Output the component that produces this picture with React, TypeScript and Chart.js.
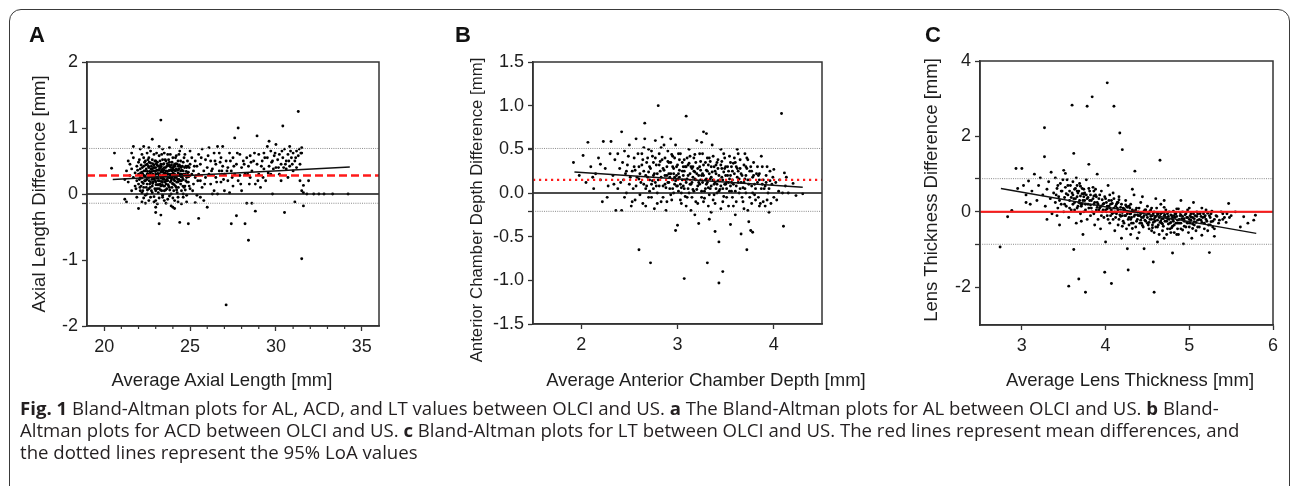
import { useEffect, useRef } from "react";
import { Chart, registerables } from "chart.js";

Chart.register(...registerables);

type P = [number, number];

// ---------- Panel A: Axial length ----------
const AL_POINTS: P[] = [
  [20.43,0.39],[20.6,0.62],[21.7,0.72],
  [21.2,0.22],[21.3,0.35],[21.4,0.18],[21.5,0.45],[21.5,0.28],[21.6,0.05],[21.6,0.38],[21.7,0.25],[21.7,0.55],[21.8,0.12],[21.8,0.32],[21.9,0.42],[21.9,0.2],[21.9,-0.05],[21.2,-0.08],[21.3,-0.12],[21.6,0.62],[21.4,0.5],
  [22.0,0.3],[22.0,0.15],[22.0,0.48],[22.1,0.38],[22.1,0.05],[22.1,0.25],[22.2,0.6],[22.2,0.33],[22.2,0.18],[22.3,0.42],[22.3,0.1],[22.3,0.28],[22.3,0.72],[22.4,0.35],[22.4,0.2],[22.4,0.5],[22.4,-0.02],[22.5,0.3],[22.5,0.15],[22.5,0.45],[22.5,0.62],[22.0,-0.22],[22.2,-0.12],[22.4,-0.14],[22.1,0.68],[22.3,0.55],[22.5,0.0],
  [22.6,0.25],[22.6,0.4],[22.6,0.08],[22.6,0.55],[22.7,0.32],[22.7,0.18],[22.7,0.47],[22.7,0.65],[22.8,0.28],[22.8,0.38],[22.8,0.12],[22.8,0.52],[22.8,0.02],[22.9,0.22],[22.9,0.35],[22.9,0.44],[22.9,0.6],[23.0,0.3],[23.0,0.18],[23.0,0.4],[23.0,0.5],[23.0,0.05],[23.0,-0.2],[22.9,-0.12],[22.7,-0.05],[22.6,0.7],[23.0,-0.28],[22.8,0.83],
  [23.1,0.26],[23.1,0.36],[23.1,0.14],[23.1,0.48],[23.2,0.3],[23.2,0.2],[23.2,0.42],[23.2,0.58],[23.2,0.08],[23.3,0.33],[23.3,0.24],[23.3,0.45],[23.3,0.12],[23.3,1.12],[23.4,0.28],[23.4,0.38],[23.4,0.18],[23.4,0.52],[23.4,0.68],[23.5,0.3],[23.5,0.22],[23.5,0.4],[23.5,0.05],[23.5,-0.1],[23.2,-0.45],[23.3,-0.32],[23.1,-0.15],[23.4,-0.05],[23.2,0.72],[23.5,0.62],
  [23.6,0.27],[23.6,0.35],[23.6,0.15],[23.6,0.5],[23.7,0.3],[23.7,0.2],[23.7,0.43],[23.7,0.6],[23.8,0.25],[23.8,0.36],[23.8,0.1],[23.8,0.48],[23.9,0.3],[23.9,0.2],[23.9,0.4],[23.9,0.0],[24.0,0.28],[24.0,0.15],[24.0,0.38],[24.0,0.55],[23.7,-0.08],[23.9,-0.18],[24.0,-0.2],[23.8,0.7],[24.0,-0.06],
  [24.1,0.3],[24.1,0.2],[24.1,0.45],[24.2,0.25],[24.2,0.38],[24.2,0.82],[24.2,0.1],[24.3,0.32],[24.3,0.5],[24.3,0.18],[24.4,0.28],[24.4,0.42],[24.4,0.65],[24.4,-0.43],[24.5,0.3],[24.5,0.2],[24.5,0.05],[24.5,0.72],[24.1,-0.22],[24.3,-0.12],[24.5,-0.15],[24.2,0.58],
  [24.6,0.35],[24.6,0.22],[24.6,0.48],[24.7,0.3],[24.7,0.12],[24.7,0.6],[24.8,0.4],[24.8,0.25],[24.8,-0.02],[24.9,0.33],[24.9,0.18],[24.9,-0.45],[25.0,0.45],[25.0,0.28],[25.0,0.08],[24.6,-0.05],[24.8,-0.12],[25.0,0.65],
  [25.2,0.35],[25.2,0.15],[25.3,0.5],[25.3,0.25],[25.4,0.42],[25.4,-0.02],[25.5,0.3],[25.5,0.6],[25.5,-0.37],[25.6,0.2],[25.6,0.45],[25.7,0.68],[25.7,0.1],[25.8,0.35],[25.8,-0.1],[25.9,0.52],[25.9,0.25],[26.0,-0.2],[26.0,0.4],[25.6,-0.05],[25.3,-0.13],
  [26.1,0.3],[26.1,0.7],[26.2,0.15],[26.2,0.5],[26.3,0.38],[26.4,0.62],[26.4,0.05],[26.5,0.45],[26.5,0.25],[26.6,0.72],[26.6,0.0],[26.7,0.35],[26.8,0.55],[26.8,0.18],[26.9,0.42],[26.9,0.72],[27.0,0.3],[27.0,0.05],[26.3,0.0],[26.7,0.62],
  [27.1,-1.68],[27.1,0.5],[27.2,0.2],[27.2,0.4],[27.3,0.62],[27.3,0.02],[27.4,-0.45],[27.4,0.35],[27.5,0.55],[27.5,0.12],[27.6,0.85],[27.6,0.3],[27.7,-0.33],[27.7,0.45],[27.8,1.0],[27.8,0.2],[27.9,0.6],[27.9,0.28],[28.0,0.4],[28.0,0.05],
  [28.1,0.5],[28.2,-0.45],[28.2,0.3],[28.3,0.55],[28.3,-0.14],[28.4,-0.7],[28.4,0.42],[28.5,0.25],[28.5,0.58],[28.6,-0.14],[28.6,0.35],[28.7,0.5],[28.8,-0.26],[28.8,0.15],[28.9,0.88],[28.9,0.45],[29.0,0.6],[29.0,0.3],
  [29.1,0.1],[29.2,0.5],[29.3,0.38],[29.3,0.62],[29.4,0.2],[29.5,0.55],[29.5,0.72],[29.6,0.42],[29.7,0.3],[29.7,0.65],[29.8,0.5],[29.8,0.0],[29.9,0.58],[30.0,0.4],[30.0,0.75],[29.6,0.8],
  [30.1,0.52],[30.2,0.6],[30.2,0.3],[30.3,0.45],[30.4,1.03],[30.4,0.55],[30.5,-0.28],[30.5,0.68],[30.6,0.38],[30.6,0.5],[30.7,0.6],[30.8,0.42],[30.8,0.72],[30.9,0.55],[31.0,0.35],[31.0,0.62],[30.3,0.2],[30.7,0.25],
  [31.1,-0.12],[31.1,0.5],[31.2,0.65],[31.2,0.4],[31.3,1.25],[31.3,0.58],[31.4,0.45],[31.4,0.2],[31.5,-0.98],[31.5,0.62],[31.5,0.05],[31.6,0.02],[31.6,-0.18],[31.5,0.7],[31.6,0.13],[31.9,0.2],
  [31.8,0.0],[32.2,0.0],[32.5,0.0],[32.8,0.0],[33.3,0.0],[34.2,0.0],
];
const AL_POINTS_DENSE: P[] = [
  [21.85,0.08],[21.95,0.36],[22.05,0.22],[22.05,0.52],[22.15,0.12],[22.15,0.44],[22.25,0.3],[22.25,0.05],[22.35,0.2],[22.35,0.48],[22.45,0.38],[22.45,0.1],[22.55,0.26],[22.55,0.52],[22.65,0.15],[22.65,0.34],[22.75,0.42],[22.75,0.05],[22.85,0.3],[22.85,0.18],[22.95,0.5],[22.95,0.08],
  [23.05,0.24],[23.05,0.36],[23.05,0.62],[23.15,0.2],[23.15,0.42],[23.15,0.02],[23.25,0.28],[23.25,0.5],[23.25,0.15],[23.35,0.36],[23.35,0.05],[23.35,0.6],[23.45,0.24],[23.45,0.45],[23.45,0.12],[23.55,0.32],[23.55,0.52],[23.55,0.18],[23.65,0.42],[23.65,0.08],[23.65,0.22],[23.75,0.35],[23.75,0.12],[23.75,0.52],[23.85,0.28],[23.85,0.18],[23.85,0.6],[23.95,0.35],[23.95,0.1],[23.95,0.48],
  [24.05,0.22],[24.05,0.42],[24.05,0.05],[24.15,0.35],[24.15,0.12],[24.15,0.55],[24.25,0.28],[24.25,0.45],[24.25,0.02],[24.35,0.22],[24.35,0.38],[24.35,0.6],[24.45,0.15],[24.45,0.35],[24.45,0.5],[24.55,0.25],[24.55,0.42],[24.65,0.1],[24.65,0.55],[24.75,0.2],[24.75,0.42],[24.85,0.3],[24.85,0.5],[24.95,0.12],[24.95,0.4],[25.1,0.3],[25.1,0.55],[25.15,0.05],
  [22.52,0.34],[22.62,0.2],[22.72,0.38],[22.82,0.46],[22.92,0.27],[23.02,0.14],[23.12,0.31],[23.22,0.38],[23.32,0.19],[23.42,0.33],[23.52,0.12],[23.62,0.3],[23.72,0.25],[23.82,0.42],[23.92,0.23],[24.02,0.32],[24.12,0.25],[24.22,0.18],[24.32,0.42],[24.42,0.3],
  [22.58,0.42],[22.68,0.28],[22.78,0.22],[22.88,0.4],[22.98,0.34],[23.08,0.44],[23.18,0.36],[23.28,0.4],[23.38,0.26],[23.48,0.36],[23.58,0.4],[23.68,0.34],[23.78,0.44],[23.88,0.36],[23.98,0.26],[24.08,0.36],[24.18,0.46],[24.28,0.36],[24.38,0.3],[24.48,0.4],
  [25.25,0.42],[25.45,0.2],[25.65,0.55],[25.85,0.15],[26.05,0.58],[26.25,0.35],[26.45,0.5],[26.55,0.18],[26.75,0.48],[26.95,0.22],[27.15,0.35],[27.35,0.5],[27.55,0.42],[27.75,0.62],[27.95,0.15],[28.15,0.45],[28.35,0.3],[28.55,0.48],[28.75,0.62],[28.95,0.2],
  [29.15,0.42],[29.35,0.55],[29.55,0.32],[29.75,0.48],[29.95,0.62],[30.15,0.4],[30.35,0.65],[30.55,0.45],[30.75,0.5],[30.95,0.45],[31.15,0.55],[31.35,0.68],[31.45,0.62],[30.85,0.65],[30.45,0.4],[29.85,0.38],[29.25,0.25],[28.45,0.15],[27.45,0.25],[26.85,0.35],
];
const AL_POINTS_CORE: P[] = [
  [22.08,0.1],[22.12,0.32],[22.18,0.24],[22.22,0.4],[22.28,0.16],[22.32,0.35],[22.38,0.27],[22.42,0.44],[22.48,0.22],[22.52,0.06],[22.58,0.3],[22.62,0.48],[22.68,0.1],[22.72,0.26],[22.78,0.34],[22.82,0.16],[22.88,0.24],[22.92,0.4],[22.98,0.2],[23.02,0.46],
  [23.08,0.08],[23.12,0.24],[23.18,0.14],[23.22,0.28],[23.28,0.06],[23.32,0.42],[23.38,0.14],[23.42,0.22],[23.48,0.46],[23.52,0.28],[23.58,0.06],[23.62,0.2],[23.68,0.46],[23.72,0.14],[23.78,0.3],[23.82,0.06],[23.88,0.24],[23.92,0.44],[23.98,0.16],[24.02,0.4],
  [24.08,0.14],[24.12,0.42],[24.18,0.28],[24.22,0.06],[24.28,0.22],[24.32,0.1],[24.38,0.44],[24.42,0.2],[24.48,0.26],[24.52,0.36],[24.58,0.12],[24.62,0.3],[24.68,0.4],[24.72,0.06],[24.78,0.34],[24.82,0.18],[24.88,0.42],[24.92,0.26],[22.3,-0.06],[22.9,-0.04],
  [23.4,-0.02],[23.6,-0.14],[24.1,-0.1],[24.6,0.0],[23.0,-0.1],[22.6,-0.1],[23.8,-0.03],[24.3,-0.05],[22.2,0.02],[23.2,-0.06],
];
const AL_MEAN = 0.28;
const AL_LOA = [-0.14, 0.69];
const AL_FIT: P[] = [[20.5, 0.22], [34.3, 0.41]];
const AL_X_TICKS = [20, 25, 30, 35];
const AL_X_MINOR = [21, 22, 23, 24, 26, 27, 28, 29, 31, 32, 33, 34];
const AL_Y_TICKS = [-2, -1, 0, 1, 2];

// ---------- Panel B: Anterior chamber depth ----------
const ACD_POINTS: P[] = [
  [1.92,0.35],[2.02,0.43],[2.07,0.58],[1.98,0.2],[2.05,0.12],[2.1,0.3],[2.13,0.05],[2.15,0.22],[2.18,0.4],[2.2,0.15],[2.22,-0.1],[2.23,0.59],[2.25,0.28],[2.28,0.08],[2.3,0.45],[2.31,0.59],[2.2,0.33],[2.27,-0.05],[2.12,0.18],
  [2.33,0.2],[2.35,0.38],[2.36,-0.2],[2.38,0.05],[2.4,0.28],[2.42,0.7],[2.42,-0.2],[2.44,0.15],[2.45,0.48],[2.47,0.0],[2.48,0.32],[2.5,0.1],[2.5,0.55],[2.52,-0.15],[2.53,0.25],[2.55,0.4],[2.56,-0.08],[2.58,0.18],[2.6,0.3],[2.6,-0.65],[2.38,0.45],[2.46,0.22],[2.54,0.05],[2.57,0.62],[2.34,0.1],
  [2.62,0.12],[2.63,0.45],[2.64,-0.12],[2.65,0.25],[2.66,0.8],[2.67,0.05],[2.68,0.35],[2.69,0.18],[2.7,0.5],[2.7,-0.05],[2.72,-0.8],[2.72,0.28],[2.73,0.1],[2.74,0.42],[2.75,0.2],[2.76,-0.18],[2.77,0.6],[2.78,0.32],[2.79,0.0],[2.8,1.0],[2.8,0.15],[2.81,0.45],[2.82,0.25],[2.83,-0.1],[2.84,0.38],[2.85,0.08],[2.86,0.55],[2.87,0.2],[2.88,-0.2],[2.89,0.3],[2.9,0.12],[2.9,0.48],[2.66,0.62],[2.71,0.02],[2.76,0.22],[2.84,0.64],
  [2.91,0.22],[2.92,0.05],[2.93,0.35],[2.94,-0.08],[2.95,0.15],[2.95,0.42],[2.96,0.28],[2.97,0.1],[2.98,-0.43],[2.98,0.55],[2.99,0.2],[3.0,-0.37],[3.0,0.32],[3.01,0.02],[3.02,0.18],[3.03,0.45],[3.04,-0.12],[3.05,0.25],[3.06,0.08],[3.07,-0.98],[3.07,0.38],[3.08,0.15],[3.09,0.88],[3.09,0.3],[3.1,-0.05],[3.11,0.2],[3.12,0.5],[3.13,0.1],[3.14,-0.2],[3.15,0.28],[3.16,0.04],[3.17,0.4],[3.18,0.16],[3.19,-0.1],[3.2,0.6],[3.2,0.22],[2.93,0.62],[3.04,0.0],[3.12,0.34],[3.18,-0.25],
  [3.21,0.08],[3.22,-0.35],[3.23,0.3],[3.24,0.15],[3.25,-0.05],[3.26,0.45],[3.27,0.7],[3.27,0.2],[3.28,0.02],[3.29,0.35],[3.3,0.68],[3.3,0.1],[3.31,-0.8],[3.31,0.25],[3.32,-0.15],[3.33,-0.3],[3.33,0.4],[3.34,0.05],[3.35,0.18],[3.36,0.55],[3.37,-0.08],[3.38,0.3],[3.39,-0.44],[3.39,0.12],[3.4,0.22],[3.41,0.0],[3.42,0.38],[3.43,-1.03],[3.43,-0.56],[3.44,0.15],[3.45,-0.18],[3.46,0.28],[3.47,-0.9],[3.47,0.05],[3.48,0.45],[3.49,0.1],[3.5,0.2],[3.25,0.58],[3.35,-0.22],[3.45,0.5],
  [3.51,-0.05],[3.52,0.3],[3.53,0.12],[3.54,0.42],[3.55,-0.36],[3.55,0.2],[3.56,0.02],[3.57,0.25],[3.58,-0.15],[3.6,0.35],[3.6,-0.25],[3.61,0.08],[3.62,0.18],[3.63,0.45],[3.64,0.0],[3.65,0.28],[3.66,-0.47],[3.66,0.12],[3.68,-0.1],[3.69,0.32],[3.7,0.05],[3.71,0.2],[3.72,-0.65],[3.72,0.4],[3.73,-0.2],[3.74,-0.33],[3.75,0.15],[3.76,-0.43],[3.77,0.25],[3.78,-0.45],[3.78,0.0],[3.8,0.1],[3.62,0.5],[3.7,0.45],
  [3.82,0.22],[3.84,-0.05],[3.85,0.15],[3.86,-0.12],[3.88,0.3],[3.9,0.05],[3.91,-0.15],[3.92,0.2],[3.94,0.0],[3.95,-0.22],[3.96,0.25],[3.98,0.1],[4.0,0.27],[4.0,-0.05],[4.02,0.12],[4.05,0.02],[4.08,0.91],[4.1,-0.38],[4.11,0.23],[4.12,0.08],[4.15,0.0],[4.2,0.11],[4.23,-0.03],[4.3,-0.01],[3.87,0.42],[3.93,-0.08],
];
const ACD_POINTS_DENSE: P[] = [
  [2.41,0.12],[2.43,0.35],[2.45,-0.05],[2.47,0.25],[2.49,0.42],[2.51,0.18],[2.53,-0.1],[2.55,0.3],[2.57,0.08],[2.59,0.45],[2.61,0.22],[2.61,-0.02],[2.63,0.32],[2.65,0.1],[2.65,0.52],[2.67,0.2],[2.67,-0.15],[2.69,0.4],[2.71,0.15],[2.71,0.3],[2.73,-0.05],[2.73,0.48],[2.75,0.35],[2.75,0.05],[2.77,0.12],[2.77,0.4],[2.79,0.22],[2.79,-0.12],
  [2.81,0.32],[2.81,0.08],[2.83,0.18],[2.83,0.52],[2.85,0.28],[2.85,-0.05],[2.87,0.4],[2.87,0.1],[2.89,0.2],[2.89,-0.1],[2.91,0.35],[2.91,0.12],[2.93,0.22],[2.93,-0.02],[2.95,0.3],[2.95,0.05],[2.97,0.4],[2.97,0.18],[2.99,0.08],[2.99,0.3],
  [3.01,0.22],[3.01,0.45],[3.03,0.1],[3.03,-0.08],[3.05,0.35],[3.05,0.15],[3.07,0.05],[3.07,0.25],[3.09,0.12],[3.09,-0.15],[3.11,0.32],[3.11,0.05],[3.13,0.22],[3.13,0.42],[3.15,0.12],[3.15,-0.05],[3.17,0.25],[3.17,0.02],[3.19,0.35],[3.19,0.15],
  [3.21,0.28],[3.21,-0.12],[3.23,0.1],[3.23,0.45],[3.25,0.2],[3.25,0.02],[3.27,0.32],[3.27,-0.1],[3.29,0.15],[3.29,0.05],[3.31,0.4],[3.31,0.12],[3.33,0.22],[3.33,-0.02],[3.35,0.3],[3.35,0.08],[3.37,0.15],[3.37,0.42],[3.39,0.25],[3.39,-0.12],
  [3.41,0.1],[3.41,0.35],[3.43,0.02],[3.43,0.2],[3.45,0.32],[3.45,0.08],[3.47,0.15],[3.47,-0.1],[3.49,0.28],[3.49,0.4],[3.51,0.12],[3.51,0.05],[3.53,0.25],[3.53,-0.15],[3.55,0.35],[3.55,0.08],[3.57,0.15],[3.57,-0.05],[3.59,0.22],[3.59,0.4],
  [3.61,-0.1],[3.61,0.3],[3.63,0.12],[3.63,0.25],[3.65,0.05],[3.65,0.38],[3.67,-0.05],[3.67,0.2],[3.69,0.12],[3.69,-0.18],[3.71,0.3],[3.71,0.0],[3.73,0.15],[3.73,0.38],[3.75,-0.05],[3.75,0.25],[3.77,0.08],[3.77,-0.12],[3.79,0.2],[3.79,0.35],
  [3.81,0.05],[3.81,-0.08],[3.83,0.12],[3.83,0.3],[3.85,-0.15],[3.85,0.22],[3.87,0.05],[3.89,0.15],[3.89,-0.1],[3.91,0.08],[3.93,0.3],[3.95,0.05],[3.97,-0.12],[3.99,0.18],[4.03,-0.08],[4.06,0.15],[4.09,0.0],[4.13,0.18],
  [2.98,0.14],[3.02,0.26],[3.06,0.2],[3.1,0.16],[3.14,0.1],[3.18,0.24],[3.22,0.2],[3.26,0.12],[3.3,0.26],[3.34,0.16],[3.38,0.1],[3.42,0.28],[3.46,0.18],[3.5,0.1],[3.54,0.16],[3.58,0.1],[3.0,0.08],[3.08,0.3],[3.16,0.3],[3.24,0.26],[3.32,0.32],[3.4,0.05],[3.48,0.24],[3.56,0.3],
];
const ACD_POINTS_CORE: P[] = [
  [2.86,0.26],[2.88,0.06],[2.9,0.36],[2.92,0.18],[2.94,0.44],[2.96,0.0],[2.96,0.22],[3.0,0.16],[3.02,0.38],[3.04,0.06],[3.06,0.3],[3.08,-0.04],[3.1,0.4],[3.12,0.0],[3.14,0.3],[3.16,0.18],[3.18,0.44],[3.2,0.04],[3.22,0.12],[3.24,0.36],
  [3.26,0.22],[3.28,-0.06],[3.3,0.16],[3.32,0.06],[3.34,0.36],[3.36,0.24],[3.38,-0.02],[3.4,0.32],[3.42,0.14],[3.44,0.04],[3.46,0.36],[3.48,-0.04],[3.5,0.3],[3.52,0.2],[3.54,0.02],[3.56,0.12],[3.58,0.34],[3.6,0.02],[3.62,0.28],[3.64,0.16],
  [3.66,0.22],[3.68,0.06],[3.7,0.16],[3.72,0.28],[3.74,0.1],[3.76,0.3],[3.78,0.18],[3.8,-0.02],[2.7,0.24],[2.74,0.14],[2.78,0.08],[2.82,0.36],[2.6,0.16],[2.64,0.38],[2.68,0.08],[2.56,0.26],[3.84,0.2],[3.88,0.1],[3.92,0.12],[3.96,0.14],
];
const ACD_MEAN = 0.15;
const ACD_LOA = [-0.21, 0.51];
const ACD_FIT: P[] = [[1.93, 0.24], [4.3, 0.065]];
const ACD_X_TICKS = [2, 3, 4];
const ACD_Y_TICKS = [-1.5, -1, -0.5, 0, 0.5, 1, 1.5];

// ---------- Panel C: Lens thickness ----------
const LT_POINTS: P[] = [
  [2.74,-0.93],[2.83,-0.13],[2.88,0.04],[2.93,1.15],[2.95,0.62],[3.0,1.15],[3.02,0.7],[3.05,0.45],[3.08,0.82],[3.1,0.2],[3.12,0.55],[3.15,1.0],[3.18,0.3],[3.2,0.7],[3.22,0.9],[3.25,0.45],[3.27,2.23],[3.27,1.46],[3.28,0.15],[3.3,0.6],[3.3,-0.2],[3.05,0.25],
  [3.32,0.8],[3.34,0.35],[3.35,1.05],[3.36,-0.05],[3.38,0.5],[3.4,0.25],[3.4,0.9],[3.42,0.62],[3.43,0.1],[3.44,0.4],[3.45,-0.35],[3.46,0.75],[3.47,0.2],[3.48,0.55],[3.5,0.0],[3.5,1.1],[3.51,0.38],[3.52,0.65],[3.53,0.15],[3.54,0.85],[3.55,0.45],[3.56,-0.15],[3.56,-1.97],[3.57,0.3],[3.58,0.7],[3.59,0.05],[3.6,2.83],[3.6,0.5],[3.42,-0.1],[3.52,1.02],
  [3.61,0.2],[3.62,1.55],[3.62,-1.0],[3.63,0.6],[3.64,0.35],[3.65,-0.3],[3.65,0.9],[3.66,0.1],[3.67,0.5],[3.68,-1.78],[3.68,0.25],[3.69,0.75],[3.7,-0.05],[3.7,0.42],[3.71,0.15],[3.72,0.62],[3.73,-0.6],[3.73,0.3],[3.74,0.0],[3.75,0.5],[3.76,-2.13],[3.76,0.2],[3.77,0.85],[3.78,2.8],[3.78,-0.2],[3.79,0.38],[3.8,1.26],[3.8,0.1],[3.81,0.55],[3.82,-0.1],[3.83,0.3],[3.84,3.05],[3.84,0.0],[3.85,0.65],[3.86,0.2],[3.87,-0.35],[3.88,0.45],[3.89,0.05],[3.9,0.25],[3.9,1.0],[3.66,0.7],[3.74,0.4],[3.86,0.55],[3.63,0.05],[3.71,-0.25],
  [3.91,-0.2],[3.92,0.35],[3.93,0.1],[3.94,-0.45],[3.95,0.55],[3.96,0.0],[3.97,0.2],[3.98,-0.15],[3.99,-1.6],[3.99,0.4],[4.0,0.05],[4.0,-0.8],[4.01,0.25],[4.02,3.42],[4.02,-0.1],[4.03,0.7],[4.04,0.15],[4.05,-0.3],[4.06,0.0],[4.07,-1.9],[4.07,0.3],[4.08,-0.05],[4.09,0.5],[4.1,2.8],[4.1,0.1],[4.11,-0.5],[4.12,-0.15],[4.13,0.2],[4.14,0.0],[4.15,-0.35],[4.16,0.4],[4.17,2.09],[4.17,-0.08],[4.18,0.12],[4.19,-0.7],[4.2,1.65],[4.2,-0.02],[3.95,0.15],[4.05,0.45],[4.15,0.25],
  [4.21,-0.25],[4.22,0.08],[4.23,-0.1],[4.24,0.3],[4.25,-0.45],[4.26,-0.98],[4.26,0.0],[4.27,-1.54],[4.27,-0.2],[4.28,0.15],[4.29,-0.05],[4.3,-0.6],[4.3,0.2],[4.31,-0.15],[4.32,0.05],[4.33,-0.3],[4.34,0.45],[4.35,1.08],[4.35,-0.08],[4.36,-0.4],[4.37,0.1],[4.38,-0.2],[4.39,0.0],[4.4,-0.55],[4.41,-0.1],[4.42,0.25],[4.43,-0.3],[4.44,-0.02],[4.45,-0.15],[4.46,-0.98],[4.47,0.05],[4.48,-0.25],[4.49,-0.08],[4.5,0.15],[4.32,0.6],[4.44,0.4],[4.38,-0.7],[4.28,-0.35],
  [4.51,-0.35],[4.52,-0.05],[4.53,-0.2],[4.54,0.05],[4.55,-0.5],[4.56,-0.1],[4.57,-1.33],[4.57,-0.28],[4.58,-2.13],[4.58,0.0],[4.59,-0.15],[4.6,-0.4],[4.61,0.1],[4.62,-0.22],[4.63,-0.05],[4.64,-0.6],[4.65,1.37],[4.65,-0.12],[4.66,0.2],[4.67,-0.3],[4.68,-0.02],[4.69,-0.18],[4.7,-0.7],[4.71,-0.08],[4.72,0.05],[4.73,-0.25],[4.74,-0.45],[4.75,-0.12],[4.76,0.0],[4.77,-0.3],[4.78,-0.55],[4.79,-0.1],[4.8,-1.09],[4.8,-0.2],[4.6,0.35],[4.7,0.3],[4.62,-0.8],
  [4.81,0.02],[4.82,-0.35],[4.83,-0.15],[4.84,-0.05],[4.85,-0.6],[4.86,-0.22],[4.87,0.08],[4.88,-0.3],[4.89,-0.1],[4.9,-0.45],[4.91,-0.18],[4.92,0.0],[4.93,-0.85],[4.94,-0.25],[4.95,-0.08],[4.96,-0.4],[4.97,-0.15],[4.98,0.05],[4.99,-0.55],[5.0,-0.2],[5.01,-0.3],[5.02,-0.05],[5.03,-0.7],[5.04,-0.15],[5.05,0.25],[5.06,-0.35],[5.07,-0.1],[5.08,-0.5],[5.09,0.0],[5.1,-0.22],[4.9,0.3],[5.0,0.1],
  [5.12,-0.4],[5.14,-0.12],[5.15,-0.62],[5.17,-0.05],[5.18,-0.3],[5.2,-0.2],[5.22,-0.5],[5.24,-1.08],[5.24,-0.1],[5.25,-0.35],[5.27,0.02],[5.28,-0.25],[5.3,-0.45],[5.32,-0.1],[5.35,-0.3],[5.38,0.0],[5.4,-0.2],[5.42,-0.15],[5.45,-0.05],[5.47,0.22],[5.5,-0.1],[5.55,0.0],[5.61,-0.4],[5.65,-0.13],[5.7,-0.3],[5.77,-0.22],[5.79,-0.09],[5.2,0.05],[5.3,-0.65],[5.15,0.1],
];
const LT_POINTS_DENSE: P[] = [
  [3.41,0.45],[3.43,0.7],[3.45,0.3],[3.47,0.55],[3.49,0.85],[3.51,0.2],[3.53,0.48],[3.55,0.7],[3.57,0.1],[3.57,0.55],[3.59,0.38],[3.61,0.8],[3.61,0.45],[3.63,0.25],[3.64,0.62],[3.66,0.4],[3.67,0.15],[3.68,0.55],[3.69,0.3],[3.7,0.68],[3.72,0.2],[3.72,0.48],[3.74,0.6],[3.75,0.3],[3.76,0.05],[3.77,0.45],[3.79,0.2],[3.8,0.62],[3.81,0.3],[3.82,0.45],[3.83,0.1],[3.85,0.35],[3.86,-0.05],[3.87,0.25],[3.88,0.6],[3.89,0.4],
  [3.91,0.2],[3.92,0.05],[3.93,0.45],[3.94,0.15],[3.95,-0.1],[3.96,0.32],[3.97,0.05],[3.98,0.22],[4.0,0.35],[4.01,0.0],[4.02,0.15],[4.03,-0.2],[4.04,0.3],[4.05,0.1],[4.06,-0.1],[4.07,0.05],[4.08,0.22],[4.09,-0.2],[4.1,0.35],[4.11,0.0],[4.12,0.15],[4.13,-0.05],[4.14,0.25],[4.15,0.05],[4.16,-0.2],[4.18,0.0],[4.19,0.2],[4.2,-0.1],
  [4.21,0.1],[4.22,-0.3],[4.23,0.05],[4.24,-0.1],[4.25,0.15],[4.26,-0.05],[4.28,-0.15],[4.29,0.1],[4.3,-0.05],[4.31,-0.3],[4.33,0.0],[4.34,-0.12],[4.36,0.05],[4.37,-0.25],[4.39,-0.1],[4.4,0.1],
  [4.41,-0.3],[4.42,-0.05],[4.43,-0.15],[4.45,-0.4],[4.46,-0.1],[4.47,-0.22],[4.48,0.05],[4.5,-0.15],[4.51,-0.05],[4.52,-0.28],[4.53,0.02],[4.55,-0.2],[4.56,-0.35],[4.57,-0.05],[4.59,-0.25],[4.6,-0.12],[4.61,-0.02],[4.62,-0.4],[4.64,-0.15],[4.65,-0.28],[4.66,-0.05],[4.67,-0.18],[4.69,-0.38],[4.7,-0.1],[4.71,-0.25],[4.72,-0.15],[4.74,-0.05],[4.75,-0.32],[4.76,-0.2],[4.78,-0.08],[4.79,-0.42],[4.8,-0.15],
  [4.81,-0.25],[4.83,-0.05],[4.84,-0.3],[4.85,-0.12],[4.86,-0.45],[4.88,-0.2],[4.89,-0.02],[4.9,-0.3],[4.92,-0.12],[4.93,-0.22],[4.94,-0.38],[4.96,-0.05],[4.97,-0.28],[4.98,-0.15],[5.0,-0.4],[5.01,-0.1],[5.02,-0.22],[5.04,-0.32],[5.05,-0.05],[5.06,-0.18],[5.08,-0.28],[5.09,-0.12],[5.1,-0.4],
  [5.12,-0.2],[5.13,-0.05],[5.15,-0.28],[5.16,-0.15],[5.18,-0.45],[5.19,-0.1],[5.21,-0.25],[5.23,-0.35],[5.25,-0.15],[5.26,-0.05],[5.28,-0.4],[5.3,-0.2],[5.33,-0.12],[5.36,-0.22],[5.4,-0.05],[5.44,-0.28],[5.48,-0.15],
  [4.52,-0.45],[4.58,-0.55],[4.63,-0.35],[4.68,-0.5],[4.73,-0.6],[4.77,-0.45],[4.82,-0.55],[4.87,-0.6],[4.55,0.1],[4.7,0.12],[4.85,0.08],
];
const LT_POINTS_CORE: P[] = [
  [4.02,0.08],[4.06,0.2],[4.1,-0.02],[4.14,0.1],[4.18,-0.12],[4.22,0.02],[4.26,0.12],[4.3,-0.2],[4.34,0.02],[4.38,-0.08],[4.42,-0.22],[4.46,0.02],[4.5,-0.3],[4.54,-0.12],[4.58,-0.2],[4.62,-0.08],[4.66,-0.24],[4.7,-0.02],[4.74,-0.18],[4.78,-0.28],
  [4.82,-0.1],[4.86,-0.3],[4.9,-0.08],[4.94,-0.18],[4.98,-0.3],[5.02,-0.14],[5.06,-0.26],[5.1,-0.06],[5.14,-0.22],[5.18,-0.14],[5.22,-0.04],[5.26,-0.26],[3.62,0.35],[3.66,0.55],[3.7,0.22],[3.74,0.48],[3.78,0.35],[3.82,0.18],[3.86,0.42],[3.9,0.12],
  [4.44,-0.36],[4.56,-0.42],[4.68,-0.32],[4.8,-0.38],[4.92,-0.48],[5.04,-0.44],[4.2,-0.38],[4.32,-0.44],[4.16,0.32],[4.24,0.18],
];
const LT_MEAN = 0.0;
const LT_LOA = [-0.86, 0.88];
const LT_FIT: P[] = [[2.75, 0.62], [5.8, -0.57]];
const LT_X_TICKS = [3, 4, 5, 6];
const LT_Y_TICKS = [-2, 0, 2, 4];

const FONT = "'Liberation Sans', Arial, Helvetica, sans-serif";
const AXIS = "#333";
const TEXT = "#1e1e1e";

interface PanelCfg {
  points: P[];
  mean: number;
  loa: number[];
  fit: P[];
  xMin: number; xMax: number; yMin: number; yMax: number;
  xTicks: number[]; xMinor: number[]; yTicks: number[]; yDec: number;
  meanDash: number[]; meanWidth: number;
  w: number; h: number; yW: number; xH: number; padTop: number; padRight: number;
}

function makeChart(canvas: HTMLCanvasElement, c: PanelCfg) {
  const hline = (v: number) => [{ x: c.xMin, y: v }, { x: c.xMax, y: v }];
  const yAll = [...c.yTicks, ...c.loa].sort((a, b) => a - b);
  const frame = {
    id: "frame",
    afterDatasetsDraw(chart: any) {
      const { ctx, chartArea: a } = chart;
      ctx.save();
      ctx.strokeStyle = AXIS;
      ctx.lineWidth = 1.5;
      ctx.strokeRect(a.left, a.top, a.right - a.left, a.bottom - a.top);
      ctx.restore();
    },
    afterDraw(chart: any) {
      const { ctx, chartArea: a } = chart;
      const xs = chart.scales.x;
      ctx.save();
      ctx.strokeStyle = AXIS;
      ctx.lineWidth = 1.2;
      ctx.beginPath();
      for (const v of c.xMinor) {
        const px = xs.getPixelForValue(v);
        ctx.moveTo(px, a.bottom);
        ctx.lineTo(px, a.bottom + 3);
      }
      ctx.stroke();
      ctx.restore();
    },
  };
  const lineDs = (data: any[], color: string, width: number, dash: number[], order: number) => ({
    data,
    showLine: true,
    borderColor: color,
    borderWidth: width,
    borderDash: dash,
    pointRadius: 0,
    order,
  });
  return new Chart(canvas, {
    type: "scatter",
    data: {
      datasets: [
        {
          data: c.points.map(([x, y]) => ({ x, y })),
          pointRadius: 1.45,
          pointBackgroundColor: "#000",
          pointBorderWidth: 0,
          order: 10,
        } as any,
        lineDs(hline(c.loa[0]), "#8a8a8a", 1, [1, 1.2], 6),
        lineDs(hline(c.loa[1]), "#8a8a8a", 1, [1, 1.2], 6),
        lineDs(hline(0), "#111", 1.4, [], 5),
        lineDs(hline(c.mean), "#ff1a1a", c.meanWidth, c.meanDash, 2),
        lineDs(c.fit.map(([x, y]) => ({ x, y })), "#111", 1.4, [], 1),
      ],
    },
    options: {
      animation: false,
      responsive: false,
      events: [],
      layout: { padding: { top: c.padTop, right: c.padRight, left: 0, bottom: 0 } },
      plugins: { legend: { display: false }, tooltip: { enabled: false } },
      scales: {
        x: {
          type: "linear",
          min: c.xMin,
          max: c.xMax,
          afterBuildTicks: (s: any) => { s.ticks = c.xTicks.map((v) => ({ value: v })); },
          afterFit: (s: any) => { s.height = c.xH; },
          ticks: {
            font: { family: FONT, size: 18 },
            color: TEXT,
            padding: 5,
            autoSkip: false,
            maxRotation: 0,
            callback: (v: any) => String(v),
          },
          grid: { display: true, drawOnChartArea: false, drawTicks: true, tickLength: 5, tickColor: AXIS, tickWidth: 1.3 },
          border: { display: true, color: AXIS, width: 1.5 },
        },
        y: {
          type: "linear",
          min: c.yMin,
          max: c.yMax,
          afterBuildTicks: (s: any) => { s.ticks = yAll.map((v) => ({ value: v })); },
          afterFit: (s: any) => { s.width = c.yW; },
          ticks: {
            font: { family: FONT, size: 18 },
            color: TEXT,
            padding: 4,
            autoSkip: false,
            callback: (v: any) => (c.yTicks.includes(v) ? Number(v).toFixed(c.yDec) : ""),
          },
          grid: { display: true, drawOnChartArea: false, drawTicks: true, tickLength: 5, tickColor: AXIS, tickWidth: 1.3 },
          border: { display: true, color: AXIS, width: 1.5 },
        },
      },
    } as any,
    plugins: [frame],
  });
}

const PANEL_A: PanelCfg = {
  points: [...AL_POINTS, ...AL_POINTS_DENSE, ...AL_POINTS_CORE], mean: AL_MEAN, loa: AL_LOA, fit: AL_FIT,
  xMin: 19, xMax: 36, yMin: -2, yMax: 2,
  xTicks: AL_X_TICKS, xMinor: AL_X_MINOR, yTicks: AL_Y_TICKS, yDec: 0,
  meanDash: [8, 4], meanWidth: 2.5,
  w: 430, h: 400, yW: 87, xH: 74, padTop: 62, padRight: 51,
};
const PANEL_B: PanelCfg = {
  points: [...ACD_POINTS, ...ACD_POINTS_DENSE, ...ACD_POINTS_CORE], mean: ACD_MEAN, loa: ACD_LOA, fit: ACD_FIT,
  xMin: 1.5, xMax: 4.5, yMin: -1.5, yMax: 1.5,
  xTicks: ACD_X_TICKS, xMinor: [], yTicks: ACD_Y_TICKS, yDec: 1,
  meanDash: [2.2, 3.8], meanWidth: 2.3,
  w: 440, h: 400, yW: 103, xH: 76, padTop: 62, padRight: 48,
};
const PANEL_C: PanelCfg = {
  points: [...LT_POINTS, ...LT_POINTS_DENSE, ...LT_POINTS_CORE], mean: LT_MEAN, loa: LT_LOA, fit: LT_FIT,
  xMin: 2.5, xMax: 6, yMin: -3, yMax: 4,
  xTicks: LT_X_TICKS, xMinor: [], yTicks: LT_Y_TICKS, yDec: 0,
  meanDash: [], meanWidth: 2,
  w: 422, h: 400, yW: 110, xH: 75, padTop: 61, padRight: 19,
};

function Panel({ cfg, left }: { cfg: PanelCfg; left: number }) {
  const ref = useRef<HTMLCanvasElement>(null);
  useEffect(() => {
    if (!ref.current) return;
    const ch = makeChart(ref.current, cfg);
    return () => ch.destroy();
  }, [cfg]);
  return (
    <canvas
      ref={ref}
      width={cfg.w}
      height={cfg.h}
      style={{ position: "absolute", left, top: 0, width: cfg.w, height: cfg.h }}
    />
  );
}

const txt = (s: any): any => ({ position: "absolute", fontFamily: FONT, color: TEXT, whiteSpace: "nowrap", lineHeight: 1, ...s });

function YTitle({ text, x, y, size }: { text: string; x: number; y: number; size: number }) {
  return (
    <div style={txt({ left: x, top: y, fontSize: size, transform: "translate(-50%, -50%) rotate(-90deg)" })}>{text}</div>
  );
}
function XTitle({ text, x, y, size }: { text: string; x: number; y: number; size: number }) {
  return <div style={txt({ left: x, top: y, fontSize: size, transform: "translate(-50%, -50%)" })}>{text}</div>;
}
function Letter({ text, x }: { text: string; x: number }) {
  return <div style={txt({ left: x, top: 24, fontSize: 22, fontWeight: "bold", color: "#111" })}>{text}</div>;
}

export default function App() {
  return (
    <div style={{ position: "fixed", left: 0, top: 0, width: 1292, height: 486, background: "#fff", overflow: "hidden" }}>
      <div
        style={{
          position: "absolute",
          left: 9,
          top: 9,
          width: 1281,
          height: 520,
          border: "1.5px solid #3a3a3a",
          borderRadius: 12,
          boxSizing: "border-box",
        }}
      />
      <Panel cfg={PANEL_A} left={0} />
      <Panel cfg={PANEL_B} left={430} />
      <Panel cfg={PANEL_C} left={870} />
      <Letter text="A" x={29} />
      <Letter text="B" x={455} />
      <Letter text="C" x={925} />
      <YTitle text="Axial Length Difference [mm]" x={39} y={194} size={18.5} />
      <YTitle text="Anterior Chamber Depth Difference [mm]" x={477} y={210} size={16.8} />
      <YTitle text="Lens Thickness Difference [mm]" x={931} y={190} size={18.5} />
      <XTitle text="Average Axial Length [mm]" x={222} y={380} size={18.5} />
      <XTitle text="Average Anterior Chamber Depth [mm]" x={706} y={380} size={18.5} />
      <XTitle text="Average Lens Thickness [mm]" x={1130} y={380} size={18.5} />
      <div
        style={{
          position: "absolute",
          left: 20,
          top: 397,
          fontFamily: "'Open Sans', 'Noto Sans', sans-serif",
          fontSize: 18.6,
          lineHeight: "22px",
          color: "#231f20",
          whiteSpace: "nowrap",
        }}
      >
        <b>Fig. 1</b> Bland-Altman plots for AL, ACD, and LT values between OLCI and US. <b>a</b> The Bland-Altman plots for AL between OLCI and US. <b>b</b> Bland-
        <br />
        Altman plots for ACD between OLCI and US. <b>c</b> Bland-Altman plots for LT between OLCI and US. The red lines represent mean differences, and
        <br />
        the dotted lines represent the 95% LoA values
      </div>
    </div>
  );
}
